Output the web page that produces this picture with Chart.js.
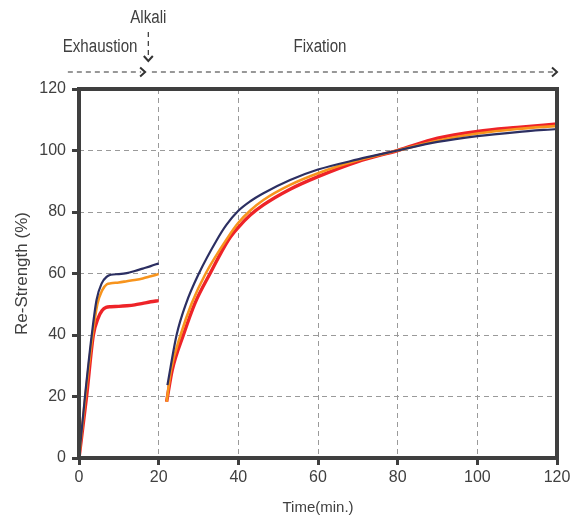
<!DOCTYPE html>
<html>
<head>
<meta charset="utf-8">
<script src="https://cdn.jsdelivr.net/npm/chart.js@4/dist/chart.umd.min.js"></script>
<style>
  html, body { margin: 0; padding: 0; background: #fff; }
  #wrap { width: 583px; height: 519px; }
</style>
</head>
<body>
<div id="wrap"><canvas id="chart" width="583" height="519"></canvas></div>
<script>
// Tiempos (min) y valores (%); null corta la curva en la adicion de alcali
const navyTime   = [0, 1.5, 3.2, 4.4, 5.7, 7, 8, 10, 12, 14, 16, 18, 20, 21,
                    22.2, 24.5, 26.9, 30.1, 34.6, 37, 40, 43, 46.3, 53, 60, 70, 80, 90, 100, 110, 120];
const navyValues = [0, 20, 40, 51.4, 56.8, 59, 59.6, 59.8, 60.1, 60.8, 61.6, 62.4, 63.3, null,
                    23.7, 40, 50.3, 60, 70.9, 75.8, 80.4, 83.5, 86.1, 90.4, 93.8, 97.1, 100, 102.8, 104.7, 106, 107];

const orangeTime   = [0, 1.6, 3.4, 4.6, 5.8, 7, 8, 10, 12, 14, 16, 18, 20, 21,
                      22, 23.1, 25.5, 28.3, 31.8, 37.5, 40, 43, 46.3, 53, 60, 70, 80, 90, 100, 110, 120];
const orangeValues = [0, 20, 40, 50, 54.5, 56.5, 56.8, 57.1, 57.5, 57.9, 58.4, 59.1, 59.8, null,
                      18.3, 28.6, 40, 50.3, 60, 72, 76.5, 80.5, 83.9, 88.8, 92.6, 96.8, 100, 103.2, 105.5, 107, 108];

const redTime   = [0, 1.9, 3.6, 4.8, 5.8, 6.8, 8, 10, 12, 14, 16, 18, 20, 21,
                   22, 23.4, 26.2, 29.1, 32.9, 37.5, 40, 43, 46.3, 53, 60, 70, 80, 90, 100, 110, 120];
const redValues = [0, 20, 40, 45.5, 48, 49, 49.2, 49.3, 49.5, 49.8, 50.3, 50.8, 51.2, null,
                   18.3, 28.6, 40, 50.3, 60, 70.9, 75, 79, 82.3, 87.4, 91.5, 96.4, 100, 104, 106.2, 107.5, 108.6];

const xTicks = [0, 20, 40, 60, 80, 100, 120];
const yTicks = [0, 20, 40, 60, 80, 100, 120];

// Anotaciones de fases (en minutos sobre el eje x)
const phaseLabels = ['Exhaustion', 'Alkali', 'Fixation'];
const phaseTextAt = [5.3, 17.4, 60.5];
const exhaustArrow = [-2.8, 16.6];
const fixArrow = [18.3, 120];

const FRAME = '#3f3f3f';
const TEXT = '#404040';
const FONT = "'Liberation Sans', Arial, sans-serif";

function toPoints(xs, ys) {
    return xs.map((x, i) => ({ x: x, y: ys[i] }));
}

function serie(xs, ys, color, width) {
    return {
        data: toPoints(xs, ys),
        borderColor: color,
        borderWidth: width,
        pointRadius: 0,
        fill: false,
        spanGaps: false,
        cubicInterpolationMode: 'monotone'
    };
}

// texto algo estrecho, como en la figura original
function narrowText(ctx, text, x, y) {
    ctx.save();
    ctx.translate(x, y);
    ctx.scale(0.84, 1);
    ctx.fillText(text, 0, 0);
    ctx.restore();
}

// Marco grueso y flechas de las fases
const framePlugin = {
    id: 'frameAndPhases',
    afterDraw(chart) {
        const { ctx, chartArea } = chart;
        const xs = chart.scales.x;
        const { top, bottom, left, right } = chartArea;

        ctx.save();
        ctx.strokeStyle = FRAME;
        ctx.lineWidth = 4;
        ctx.strokeRect(left, top, right - left, bottom - top);

        ctx.fillStyle = TEXT;
        ctx.font = "18px " + FONT;
        ctx.textAlign = 'center';
        ctx.textBaseline = 'middle';
        narrowText(ctx, phaseLabels[0], xs.getPixelForValue(phaseTextAt[0]), top - 42);
        narrowText(ctx, phaseLabels[1], xs.getPixelForValue(phaseTextAt[1]), top - 71);
        narrowText(ctx, phaseLabels[2], xs.getPixelForValue(phaseTextAt[2]), top - 42);

        const arrowY = top - 17;
        ctx.strokeStyle = '#333';
        ctx.lineWidth = 1.2;
        ctx.setLineDash([5, 4]);
        // flechas horizontales
        [exhaustArrow, fixArrow].forEach(([a, b]) => {
            const x1 = xs.getPixelForValue(a);
            const x2 = xs.getPixelForValue(b);
            ctx.beginPath();
            ctx.moveTo(x1, arrowY);
            ctx.lineTo(x2 - 4, arrowY);
            ctx.stroke();
        });
        // flecha vertical del alcali
        const ax = xs.getPixelForValue(phaseTextAt[1]);
        ctx.beginPath();
        ctx.moveTo(ax, top - 57);
        ctx.lineTo(ax, top - 32);
        ctx.stroke();

        ctx.setLineDash([]);
        ctx.lineWidth = 2;
        [exhaustArrow, fixArrow].forEach(([a, b]) => {
            const x2 = xs.getPixelForValue(b);
            ctx.beginPath();
            ctx.moveTo(x2 - 5, arrowY - 4.5);
            ctx.lineTo(x2, arrowY);
            ctx.lineTo(x2 - 5, arrowY + 4.5);
            ctx.stroke();
        });
        ctx.beginPath();
        ctx.moveTo(ax - 4.5, top - 33);
        ctx.lineTo(ax, top - 28);
        ctx.lineTo(ax + 4.5, top - 33);
        ctx.stroke();
        ctx.restore();
    }
};

new Chart(document.getElementById('chart'), {
    type: 'line',
    data: {
        datasets: [
            serie(navyTime, navyValues, '#2c2f62', 2.2),
            serie(orangeTime, orangeValues, '#f7941d', 2.6),
            serie(redTime, redValues, '#ee2328', 3.4)
        ]
    },
    options: {
        responsive: false,
        animation: false,
        layout: { padding: { top: 89, right: 26, left: 0, bottom: 0 } },
        plugins: { legend: { display: false }, tooltip: { enabled: false } },
        scales: {
            x: {
                type: 'linear',
                min: 0,
                max: 120,
                afterFit: (s) => { s.height = 61; },
                afterBuildTicks: (s) => { s.ticks = xTicks.map(v => ({ value: v })); },
                border: { display: false, dash: [5, 4] },
                grid: {
                    color: '#9a9a9a',
                    lineWidth: 1,
                    tickColor: FRAME,
                    tickWidth: 3,
                    tickLength: 7
                },
                ticks: { color: TEXT, padding: 3, font: { family: FONT, size: 16 }, maxRotation: 0 },
                title: {
                    display: true,
                    text: 'Time(min.)',
                    color: TEXT,
                    font: { family: FONT, size: 15 },
                    padding: { top: 0, bottom: 2 }
                }
            },
            y: {
                min: 0,
                max: 120,
                afterFit: (s) => { s.width = 79; },
                afterBuildTicks: (s) => { s.ticks = yTicks.map(v => ({ value: v })); },
                border: { display: false, dash: [5, 4] },
                grid: {
                    color: '#9a9a9a',
                    lineWidth: 1,
                    tickColor: FRAME,
                    tickWidth: 3,
                    tickLength: 7
                },
                ticks: { color: TEXT, padding: 6, font: { family: FONT, size: 16 } },
                title: {
                    display: true,
                    text: 'Re-Strength (%)',
                    color: TEXT,
                    font: { family: FONT, size: 17 },
                    padding: { top: 12, bottom: 0 }
                }
            }
        }
    },
    plugins: [framePlugin]
});
</script>
</body>
</html>
